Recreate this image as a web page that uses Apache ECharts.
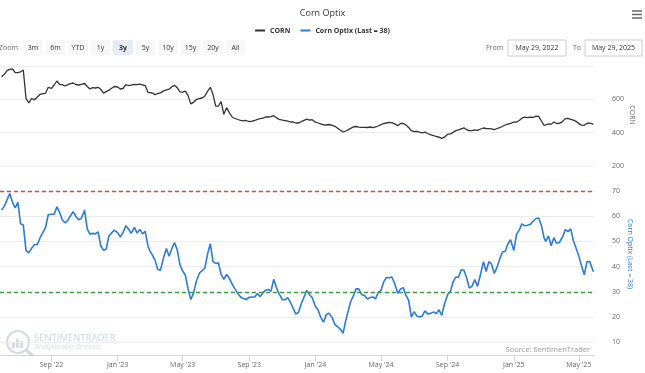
<!DOCTYPE html>
<html><head><meta charset="utf-8">
<script src="https://cdn.jsdelivr.net/npm/echarts@6/dist/echarts.min.js"></script>
<style>html,body{margin:0;padding:0;background:#fff}#c{width:645px;height:373px}</style>
</head><body><div id="c"></div>
<script>
const dates = [
'2022-06-01','2022-06-06','2022-06-11','2022-06-16','2022-06-21','2022-06-26',
'2022-07-01','2022-07-06','2022-07-11','2022-07-16','2022-07-21','2022-07-26',
'2022-08-01','2022-08-06','2022-08-11','2022-08-16','2022-08-21','2022-08-26',
'2022-09-01','2022-09-06','2022-09-11','2022-09-16','2022-09-21','2022-09-26',
'2022-10-01','2022-10-06','2022-10-11','2022-10-16','2022-10-21','2022-10-26',
'2022-11-01','2022-11-06','2022-11-11','2022-11-16','2022-11-21','2022-11-26',
'2022-12-01','2022-12-06','2022-12-11','2022-12-16','2022-12-21','2022-12-26',
'2023-01-01','2023-01-06','2023-01-11','2023-01-16','2023-01-21','2023-01-26',
'2023-02-01','2023-02-06','2023-02-11','2023-02-16','2023-02-21','2023-02-26',
'2023-03-01','2023-03-06','2023-03-11','2023-03-16','2023-03-21','2023-03-26',
'2023-04-01','2023-04-06','2023-04-11','2023-04-16','2023-04-21','2023-04-26',
'2023-05-01','2023-05-06','2023-05-11','2023-05-16','2023-05-21','2023-05-26',
'2023-06-01','2023-06-06','2023-06-11','2023-06-16','2023-06-21','2023-06-26',
'2023-07-01','2023-07-06','2023-07-11','2023-07-16','2023-07-21','2023-07-26',
'2023-08-01','2023-08-06','2023-08-11','2023-08-16','2023-08-21','2023-08-26',
'2023-09-01','2023-09-06','2023-09-11','2023-09-16','2023-09-21','2023-09-26',
'2023-10-01','2023-10-06','2023-10-11','2023-10-16','2023-10-21','2023-10-26',
'2023-11-01','2023-11-06','2023-11-11','2023-11-16','2023-11-21','2023-11-26',
'2023-12-01','2023-12-06','2023-12-11','2023-12-16','2023-12-21','2023-12-26',
'2024-01-01','2024-01-06','2024-01-11','2024-01-16','2024-01-21','2024-01-26',
'2024-02-01','2024-02-06','2024-02-11','2024-02-16','2024-02-21','2024-02-26',
'2024-03-01','2024-03-06','2024-03-11','2024-03-16','2024-03-21','2024-03-26',
'2024-04-01','2024-04-06','2024-04-11','2024-04-16','2024-04-21','2024-04-26',
'2024-05-01','2024-05-06','2024-05-11','2024-05-16','2024-05-21','2024-05-26',
'2024-06-01','2024-06-06','2024-06-11','2024-06-16','2024-06-21','2024-06-26',
'2024-07-01','2024-07-06','2024-07-11','2024-07-16','2024-07-21','2024-07-26',
'2024-08-01','2024-08-06','2024-08-11','2024-08-16','2024-08-21','2024-08-26',
'2024-09-01','2024-09-06','2024-09-11','2024-09-16','2024-09-21','2024-09-26',
'2024-10-01','2024-10-06','2024-10-11','2024-10-16','2024-10-21','2024-10-26',
'2024-11-01','2024-11-06','2024-11-11','2024-11-16','2024-11-21','2024-11-26',
'2024-12-01','2024-12-06','2024-12-11','2024-12-16','2024-12-21','2024-12-26',
'2025-01-01','2025-01-06','2025-01-11','2025-01-16','2025-01-21','2025-01-26',
'2025-02-01','2025-02-06','2025-02-11','2025-02-16','2025-02-21','2025-02-26',
'2025-03-01','2025-03-06','2025-03-11','2025-03-16','2025-03-21','2025-03-26',
'2025-04-01','2025-04-06','2025-04-11','2025-04-16','2025-04-21','2025-04-26',
'2025-05-01','2025-05-06','2025-05-11','2025-05-16','2025-05-21','2025-05-28'
];
const cornValues = [
736,750,772,780,783,760,
760,765,776,606,578,604,
598,614,630,634,636,672,
666,686,710,688,688,680,
688,694,698,689,686,690,
695,677,662,670,668,672,
660,637,646,655,666,677,
674,662,665,688,683,685,
690,688,691,686,682,642,
643,638,628,635,639,649,
657,661,676,684,670,645,
643,649,622,573,582,598,
605,608,620,648,672,630,
559,560,586,510,550,520,
491,485,479,474,471,473,
466,469,473,480,484,487,
494,494,496,502,490,480,
475,472,469,464,464,458,
458,466,474,481,475,478,
463,458,453,447,446,449,
444,438,426,416,404,410,
417,426,435,437,433,432,
432,431,434,430,435,440,
448,455,458,462,460,453,
442,455,456,446,431,412,
406,408,403,399,403,395,
387,382,377,373,366,373,
390,393,402,412,417,423,
429,418,412,412,417,414,
422,428,425,424,423,418,
425,430,437,446,451,456,
463,464,473,487,493,490,
493,491,499,498,470,443,
440,453,451,464,455,456,
466,484,486,480,475,468,
454,445,444,456,458,450
];
const optixValues = [
62.5,64,66.5,69,65.5,63.3,
65.5,57,56.5,46.5,45.5,47.2,
48.8,48.8,51.5,53.5,55.5,60.6,
60.8,60.8,63.7,61.5,58.5,57.4,
58.3,60.2,61.8,60,58.6,59.2,
62.4,55,52.9,53.2,53,53.8,
48.2,46.5,47,52.2,53.4,54.5,
53.5,51.7,53.5,56.2,55,53.2,
55.6,53.3,54.8,53,54,48.2,
46.5,44.7,42.6,39,38.6,43,
47.2,44.1,47.1,49.6,46.7,40.8,
38.3,36.6,31.2,27,29.4,34,
37.5,38.4,39.5,45,49.1,42,
41.3,41.5,37,35,36.9,35.5,
32.8,31,29.3,28,27.4,27,
27.9,28,28,29.4,28.1,29.6,
30.7,31,30.2,35,31.8,29.2,
26.9,26.9,27.7,25.8,23.5,21.2,
22,25.4,28,30.6,29,27.8,
24.2,22.8,19.8,18,21,21.6,
19.8,17,16.2,15.3,13.6,18.7,
22.1,26.2,28.4,31.2,31.2,29,
28.5,27.2,27.8,28,27.3,29.8,
30.6,34,35.7,35.6,35.9,33.5,
29.4,31.2,31.7,28.6,26.7,20,
22.2,20.5,20.1,20.4,22.5,21.3,
21.5,22.1,21.4,22.9,20.7,25.1,
29,30.2,34,35.9,35.8,38.8,
38.6,35.6,31.5,32.3,34.9,32.2,
37.3,42,38.1,42,41,37.3,
39.7,43,45.8,46,49,50.7,
46.4,52.8,54.5,57,56.2,56.4,
56.8,58.1,59.1,59.3,56.3,51.3,
50,52.2,48.3,51.5,49.3,49.6,
51.8,54.7,53.9,55,50.3,47.3,
44.2,40.4,36.8,42,42,38
];
const xTickDates = ['2022-09-01','2023-01-01','2023-05-01','2023-09-01','2024-01-01','2024-05-01','2024-09-01','2025-01-01','2025-05-01'];
const xTickLabels = ["Sep '22","Jan '23","May '23","Sep '23","Jan '24","May '24","Sep '24","Jan '25","May '25"];
const rangeStart = '2022-05-29', rangeEnd = '2025-05-29';
const cornAxis = {min: 200, max: 800, step: 200};
const optixAxis = {min: 5, max: 70};
const overbought = 70, oversold = 30;
const rangeButtons = ['3m','6m','YTD','1y','3y','5y','10y','15y','20y','All'];
const selectedRange = '3y';
const fromLabel = 'May 29, 2022', toLabel = 'May 29, 2025';
const seriesNames = ['CORN', 'Corn Optix (Last = 38)'];

const FONT = '"Open Sans", "Noto Sans", sans-serif';
const toTs = s => { const [y, m, d] = s.split('-').map(Number); return Date.UTC(y, m - 1, d); };
const tickTs = xTickDates.map(toTs);
const labelFor = v => { for (let i = 0; i < tickTs.length; i++) if (Math.abs(tickTs[i] - v) < 43200000) return xTickLabels[i]; return ''; };

const chart = echarts.init(document.getElementById('c'), null, {renderer: 'canvas'});

const txt = (x, y, text, extra) => Object.assign({type:'text', x, y, style: Object.assign({text, fontSize:7, fill:'#666', fontFamily:FONT, verticalAlign:'middle', textVerticalAlign:'middle'}, extra || {})});
const graphics = [];
graphics.push(txt(-1, 47.5, 'Zoom'));
rangeButtons.forEach((b, i) => {
  const cx = 33 + i * 22.5;
  const sel = b === selectedRange;
  graphics.push({type:'rect', shape:{x:cx-10, y:40, width:20, height:15, r:1}, style:{fill: sel ? '#e6ebf5' : '#f7f7f7'}});
  graphics.push(txt(cx, 47.5, b, {fontWeight: sel ? 'bold' : 'normal', fill:'#333', align:'center', textAlign:'center'}));
});
graphics.push(txt(486, 47.5, 'From'));
graphics.push({type:'rect', shape:{x:508, y:40, width:58, height:16}, style:{fill:'#fff', stroke:'#cccccc', lineWidth:1}});
graphics.push(txt(537, 48, fromLabel, {fill:'#333', align:'center', textAlign:'center'}));
graphics.push(txt(573, 47.5, 'To'));
graphics.push({type:'rect', shape:{x:585, y:40, width:57, height:16}, style:{fill:'#fff', stroke:'#cccccc', lineWidth:1}});
graphics.push(txt(613.5, 48, toLabel, {fill:'#333', align:'center', textAlign:'center'}));
[11, 14.5, 18].forEach(yy => graphics.push({type:'line', shape:{x1:632, y1:yy, x2:642, y2:yy}, style:{stroke:'#666', lineWidth:1.5}}));
// axis titles
graphics.push(Object.assign(txt(631.5, 115, seriesNames[0], {align:'center', textAlign:'center'}), {rotation: -Math.PI/2}));
graphics.push(Object.assign(txt(629.5, 254, seriesNames[1], {fill:'#2b7bd9', align:'center', textAlign:'center'}), {rotation: -Math.PI/2}));
// watermark
graphics.push({type:'circle', z:-1, shape:{cx:18, cy:342, r:11}, style:{fill:'none', stroke:'#d3dbe5', lineWidth:2.2}});
[[12,343,3,5],[16,339,3,9],[20,341,3,7]].forEach(r => graphics.push({type:'rect', z:-1, shape:{x:r[0], y:r[1], width:r[2], height:r[3]}, style:{fill:'#d3dbe5'}}));
graphics.push({type:'line', z:-1, shape:{x1:26, y1:350, x2:33, y2:356}, style:{stroke:'#d3dbe5', lineWidth:3}});
graphics.push(txt(34, 338.5, 'SENTIMENTRADER', {fontSize:9.5, fill:'#cdd6e1'}));
graphics.push(txt(35, 347.5, 'Analysis over Emotion', {fontSize:6.5, fill:'#d3dbe5'}));
graphics.push(txt(590, 350, 'Source: SentimenTrader', {fontSize:7.5, fill:'#999', align:'right', textAlign:'right'}));

const option = {
  animation: false,
  backgroundColor: '#ffffff',
  textStyle: {fontFamily: FONT},
  title: {text: 'Corn Optix', left: 'center', top: 4, textStyle: {fontSize: 9, fontWeight: 'normal', color: '#333', fontFamily: FONT}},
  legend: {
    top: 22, left: 'center', icon: 'rect', itemWidth: 10, itemHeight: 2, itemGap: 10,
    textStyle: {fontSize: 7, fontWeight: 'bold', color: '#333', fontFamily: FONT},
    data: seriesNames
  },
  grid: [
    {left: -2, right: 51, top: 66, height: 100},
    {left: -2, right: 51, top: 191, height: 164}
  ],
  xAxis: [
    {type: 'value', gridIndex: 0, min: toTs(rangeStart), max: toTs(rangeEnd), show: false, splitLine: {show: false}},
    {type: 'value', gridIndex: 1, min: toTs(rangeStart), max: toTs(rangeEnd),
      axisLine: {lineStyle: {color: '#ccd6eb'}},
      axisTick: {show: true, length: 6, lineStyle: {color: '#ccd6eb'}, customValues: tickTs},
      axisLabel: {customValues: tickTs, formatter: v => labelFor(v), fontSize: 7, color: '#666', margin: 6, fontFamily: FONT},
      splitLine: {show: false}
    }
  ],
  yAxis: [
    {type: 'value', gridIndex: 0, position: 'right', min: cornAxis.min, max: cornAxis.max, interval: cornAxis.step,
      axisLine: {show: false}, axisTick: {show: false},
      axisLabel: {showMaxLabel: false, fontSize: 7, color: '#666', margin: 18, fontFamily: FONT},
      splitLine: {lineStyle: {color: '#ececec'}}
    },
    {type: 'value', gridIndex: 1, position: 'right', min: optixAxis.min, max: optixAxis.max,
      axisLine: {show: false}, axisTick: {show: false},
      axisLabel: {showMinLabel: false, fontSize: 7, color: '#666', margin: 18, fontFamily: FONT},
      splitLine: {showMinLine: false, lineStyle: {color: '#ececec'}}
    }
  ],
  series: [
    {name: seriesNames[0], type: 'line', xAxisIndex: 0, yAxisIndex: 0, showSymbol: false,
      data: dates.map((d, i) => [toTs(d), cornValues[i]]),
      lineStyle: {color: '#333333', width: 1.3}, itemStyle: {color: '#333333'}},
    {name: seriesNames[1], type: 'line', xAxisIndex: 1, yAxisIndex: 1, showSymbol: false,
      data: dates.map((d, i) => [toTs(d), optixValues[i]]),
      lineStyle: {color: '#2b7bd9', width: 1.6}, itemStyle: {color: '#2b7bd9'},
      markLine: {silent: true, symbol: ['none', 'none'], label: {show: false},
        data: [
          {yAxis: overbought, lineStyle: {color: '#e8403a', type: [4, 3], width: 1.3}},
          {yAxis: oversold, lineStyle: {color: '#3f9a43', type: [4, 3], width: 1.3}}
        ]}
    }
  ],
  graphic: graphics
};
chart.setOption(option);
</script></body></html>
